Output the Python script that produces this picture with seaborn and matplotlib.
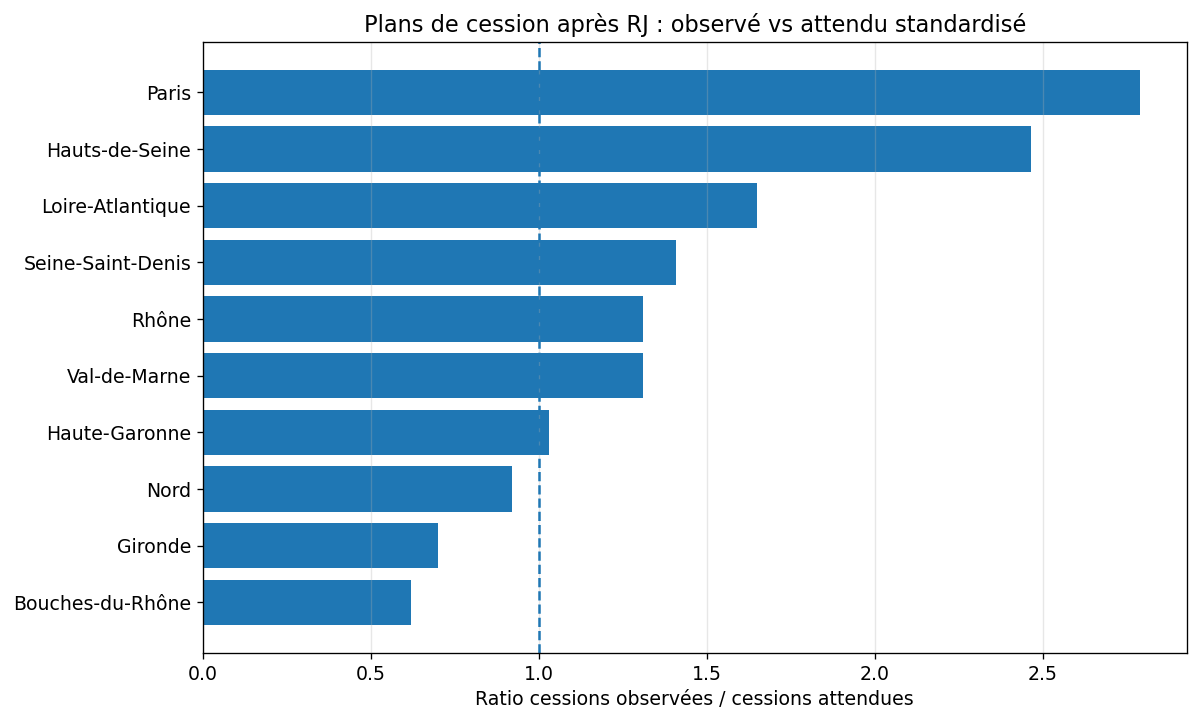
import pandas as pd
import seaborn as sns
import matplotlib
matplotlib.use("Agg")
import matplotlib.pyplot as plt

departements = ["Paris", "Hauts-de-Seine", "Loire-Atlantique", "Seine-Saint-Denis",
                "Rhône", "Val-de-Marne", "Haute-Garonne", "Nord", "Gironde",
                "Bouches-du-Rhône"]
ratios = [2.79, 2.467, 1.65, 1.41, 1.31, 1.31, 1.03, 0.92, 0.70, 0.62]

df = pd.DataFrame({"departement": departements, "ratio": ratios})

plt.rcParams["font.family"] = ["DejaVu Sans"]
fig, ax = plt.subplots(figsize=(10, 6.025), dpi=120)
sns.barplot(data=df, y="departement", x="ratio", orient="h", color="#1f77b4",
            saturation=1, width=0.8, ax=ax)

n = len(departements)
pad = 0.05 * (n - 1 + 0.8)
ax.set_ylim(n - 1 + 0.4 + pad, -0.4 - pad)
ax.set_xlim(0, max(ratios) * 1.05)

ax.axvline(1.0, linestyle="--", color="#1f77b4", linewidth=1.5)
ax.grid(axis="x", alpha=0.3)
ax.tick_params(labelsize=11.3)
ax.set_title("Plans de cession après RJ : observé vs attendu standardisé", fontsize=13.5)
ax.set_xlabel("Ratio cessions observées / cessions attendues", fontsize=11.3)
ax.set_ylabel("")

fig.subplots_adjust(left=0.169, right=0.989, top=0.942, bottom=0.097)
fig.savefig("out.png", dpi=120)
